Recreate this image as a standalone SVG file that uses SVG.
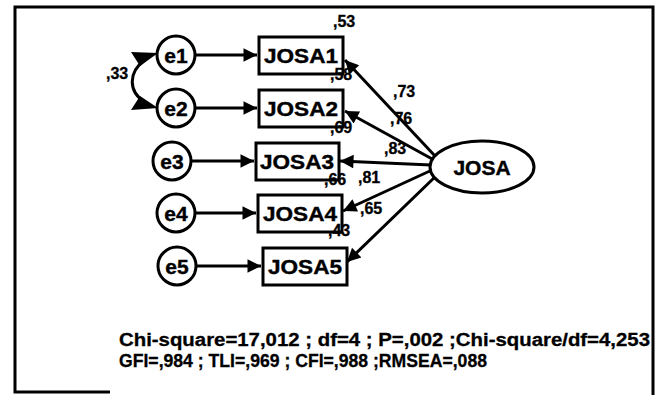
<svg xmlns="http://www.w3.org/2000/svg" width="664" height="395" viewBox="0 0 664 395">
<style>
.n{fill:#fff;stroke:#000;stroke-width:3}
.t{font-family:"Liberation Sans",Arial,sans-serif;font-weight:bold;fill:#000;text-anchor:middle;stroke:#000;stroke-width:0.4}
.big{font-size:21px}
.lab{font-family:"Liberation Sans",Arial,sans-serif;font-weight:bold;font-size:16px;fill:#000;stroke:#000;stroke-width:0.3}
.c{fill:none;stroke:#000;stroke-width:3}
.fit{font-family:"Liberation Sans",Arial,sans-serif;font-weight:bold;font-size:18px;fill:#000;stroke:#000;stroke-width:0.3}
</style>
<defs>
<marker id="ah" viewBox="0 0 10 10" refX="10" refY="5" markerWidth="6.5" markerHeight="4.5" markerUnits="strokeWidth" orient="auto">
<path d="M0,0 L10,5 L0,10 z" fill="#000"/>
</marker>
</defs>
<path d="M110 392 H15 V7 H653 V395" fill="none" stroke="#000" stroke-width="3"/>
<g id="connectors">
<path class="c" d="M195 55 H257" marker-end="url(#ah)"/>
<path class="c" d="M195 108 H257" marker-end="url(#ah)"/>
<path class="c" d="M191 161 H254" marker-end="url(#ah)"/>
<path class="c" d="M195 213 H256" marker-end="url(#ah)"/>
<path class="c" d="M196 266 H261" marker-end="url(#ah)"/>
<path class="c" d="M436 157 L345 60" marker-end="url(#ah)"/>
<path class="c" d="M434 160 L345 111" marker-end="url(#ah)"/>
<path class="c" d="M431 165 L340 161" marker-end="url(#ah)"/>
<path class="c" d="M432 170 L343 211" marker-end="url(#ah)"/>
<path class="c" d="M436 176 L347 262" marker-end="url(#ah)"/>
<path class="c" d="M145 60 C128 72, 128 92, 145 102" />
<path d="M158 53 L131 52 L140 66 z" fill="#000"/>
<path d="M158 108 L131 110 L140 96 z" fill="#000"/>
</g>
<g id="e1"><circle class="n" cx="176" cy="55" r="19"/><text class="t big" x="176" y="63">e1</text></g>
<g id="e2"><circle class="n" cx="176" cy="108" r="19"/><text class="t big" x="176" y="116">e2</text></g>
<g id="e3"><circle class="n" cx="172" cy="161" r="19"/><text class="t big" x="172" y="169">e3</text></g>
<g id="e4"><circle class="n" cx="176" cy="213" r="19"/><text class="t big" x="176" y="221">e4</text></g>
<g id="e5"><circle class="n" cx="177" cy="266" r="19"/><text class="t big" x="177" y="274">e5</text></g>
<g id="JOSA1"><rect class="n" x="259" y="37" width="84" height="37"/><text class="t big" x="301" y="63" textLength="74" lengthAdjust="spacingAndGlyphs">JOSA1</text></g>
<g id="JOSA2"><rect class="n" x="259" y="90" width="84" height="37"/><text class="t big" x="301" y="116" textLength="74" lengthAdjust="spacingAndGlyphs">JOSA2</text></g>
<g id="JOSA3"><rect class="n" x="256" y="143" width="83" height="37"/><text class="t big" x="297" y="169" textLength="74" lengthAdjust="spacingAndGlyphs">JOSA3</text></g>
<g id="JOSA4"><rect class="n" x="258" y="195" width="84" height="37"/><text class="t big" x="300" y="221" textLength="74" lengthAdjust="spacingAndGlyphs">JOSA4</text></g>
<g id="JOSA5"><rect class="n" x="263" y="248" width="84" height="37"/><text class="t big" x="305" y="274" textLength="74" lengthAdjust="spacingAndGlyphs">JOSA5</text></g>
<g id="JOSA"><ellipse class="n" cx="482" cy="167" rx="52" ry="26"/><text class="t big" x="482" y="175">JOSA</text></g>
<g id="labels">
<text class="lab" x="106" y="79">,33</text>
<text class="lab" x="333" y="27">,53</text>
<text class="lab" x="330" y="80">,58</text>
<text class="lab" x="330" y="133">,69</text>
<text class="lab" x="324" y="185">,66</text>
<text class="lab" x="328" y="236">,43</text>
<text class="lab" x="393" y="97">,73</text>
<text class="lab" x="390" y="124">,76</text>
<text class="lab" x="384" y="154">,83</text>
<text class="lab" x="358" y="183">,81</text>
<text class="lab" x="360" y="214">,65</text>
</g>
<g id="fit">
<text class="fit" x="119" y="346" textLength="531" lengthAdjust="spacingAndGlyphs">Chi-square=17,012 ; df=4 ; P=,002 ;Chi-square/df=4,253</text>
<text class="fit" x="119" y="367" textLength="368" lengthAdjust="spacingAndGlyphs">GFI=,984 ; TLI=,969 ; CFI=,988 ;RMSEA=,088</text>
</g>
</svg>
